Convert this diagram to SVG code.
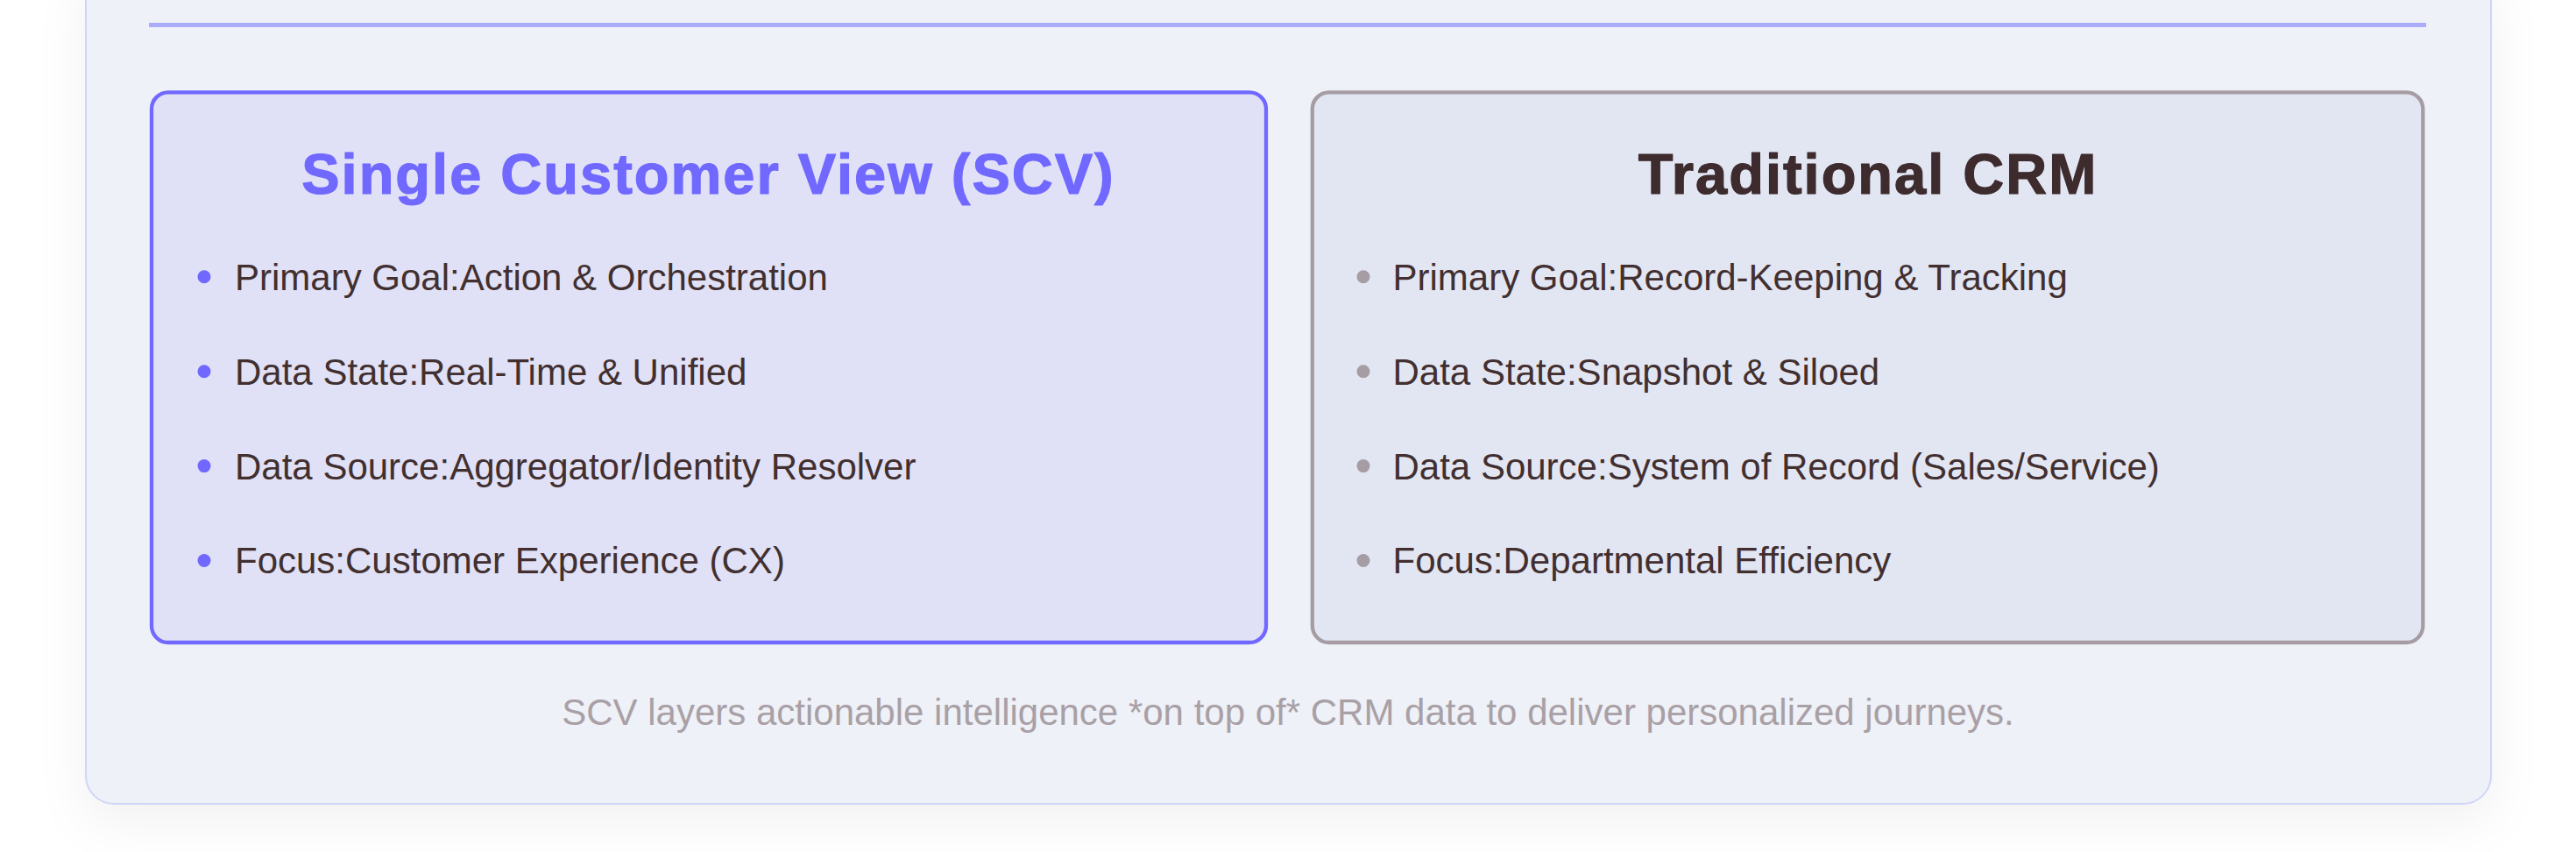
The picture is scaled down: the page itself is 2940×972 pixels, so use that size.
<svg xmlns="http://www.w3.org/2000/svg" width="2940" height="972" viewBox="0 0 2940 972">
  <style>
    text { font-family: "Liberation Sans", Arial, sans-serif; }
    .title { font-size: 65px; font-weight: bold; letter-spacing: 2px; text-anchor: middle; stroke-width: 1.2px; stroke-linejoin: round; }
    .item { font-size: 42px; fill: #422f2f; }
    .foot { font-size: 42px; fill: #a9a0a6; text-anchor: middle; }
  </style>
  <defs>
    <filter id="shadow" x="-10%" y="-20%" width="120%" height="140%">
      <feDropShadow dx="0" dy="18" stdDeviation="28" flood-color="#000000" flood-opacity="0.06"/>
    </filter>
  </defs>
  <rect width="2940" height="972" fill="#ffffff"/>
  <g id="card">
    <rect x="98" y="-40" width="2745" height="957" rx="32" fill="#eef1f7" stroke="#d0d5f6" stroke-width="2" filter="url(#shadow)"/>
    <rect x="170" y="26" width="2599" height="5" fill="#abacfa"/>
  </g>
  <g id="scv">
    <rect x="173" y="105.3" width="1272" height="627.7" rx="19" fill="#e0e1f6" stroke="#7068ff" stroke-width="4.3"/>
    <text class="title" x="808.5" y="221" fill="#7068ff" stroke="#7068ff">Single Customer View (SCV)</text>
    <g fill="#7068ff">
      <circle cx="233" cy="315.8" r="7.5"/>
      <circle cx="233" cy="423.7" r="7.5"/>
      <circle cx="233" cy="531.6" r="7.5"/>
      <circle cx="233" cy="639.5" r="7.5"/>
    </g>
    <text class="item" x="268" y="330.7">Primary Goal:Action &amp; Orchestration</text>
    <text class="item" x="268" y="438.6">Data State:Real-Time &amp; Unified</text>
    <text class="item" x="268" y="546.5">Data Source:Aggregator/Identity Resolver</text>
    <text class="item" x="268" y="654.4">Focus:Customer Experience (CX)</text>
  </g>
  <g id="crm">
    <rect x="1497.8" y="105.3" width="1267.5" height="627.7" rx="19" fill="#e2e6f3" stroke="#a59da3" stroke-width="4.3"/>
    <text class="title" x="2132" y="221" fill="#3d2b2e" stroke="#3d2b2e">Traditional CRM</text>
    <g fill="#a59da3">
      <circle cx="1556" cy="315.8" r="7.5"/>
      <circle cx="1556" cy="423.7" r="7.5"/>
      <circle cx="1556" cy="531.6" r="7.5"/>
      <circle cx="1556" cy="639.5" r="7.5"/>
    </g>
    <text class="item" x="1589.5" y="330.7">Primary Goal:Record-Keeping &amp; Tracking</text>
    <text class="item" x="1589.5" y="438.6">Data State:Snapshot &amp; Siloed</text>
    <text class="item" x="1589.5" y="546.5">Data Source:System of Record (Sales/Service)</text>
    <text class="item" x="1589.5" y="654.4">Focus:Departmental Efficiency</text>
  </g>
  <g id="connectors"></g>
  <g id="footer">
    <text class="foot" x="1470" y="826.7">SCV layers actionable intelligence *on top of* CRM data to deliver personalized journeys.</text>
  </g>
</svg>
